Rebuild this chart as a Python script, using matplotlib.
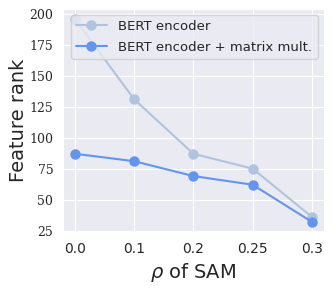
import matplotlib
matplotlib.use("Agg")
import matplotlib.pyplot as plt
import seaborn as sns

rho_labels = ["0.0", "0.1", "0.2", "0.25", "0.3"]
y_ticks = [25, 50, 75, 100, 125, 150, 175, 200]
bert_encoder = [196, 131, 87, 75, 36]
bert_matmul = [87, 81, 69, 62, 32]

sns.set_style("darkgrid")
plt.rcParams['font.family'] = ['DejaVu Sans']

fig, ax = plt.subplots(figsize=(3.32, 2.90), dpi=100)
x = range(len(rho_labels))
ax.plot(x, bert_encoder, marker='o', markersize=6.5, lw=1.5, color='lightsteelblue', label='BERT encoder')
ax.plot(x, bert_matmul, marker='o', markersize=6.5, lw=1.5, color='cornflowerblue', label='BERT encoder + matrix mult.')

ax.set_xticks(list(x))
ax.set_xticklabels(rho_labels, fontsize=10)
ax.set_yticks(y_ticks)
ax.set_yticklabels([str(v) for v in y_ticks], family='DejaVu Serif', fontsize=9)
ax.set_xlabel(r'$\rho$ of SAM', fontsize=14)
ax.set_ylabel('Feature rank', fontsize=14, labelpad=1)
ax.legend(loc='upper right', fontsize=9.5, handlelength=2.3, handletextpad=0.9,
          labelspacing=0.6, borderaxespad=0.45)

fig.subplots_adjust(left=0.19, right=0.975, top=0.97, bottom=0.2)
fig.savefig('out.png', dpi=100)
